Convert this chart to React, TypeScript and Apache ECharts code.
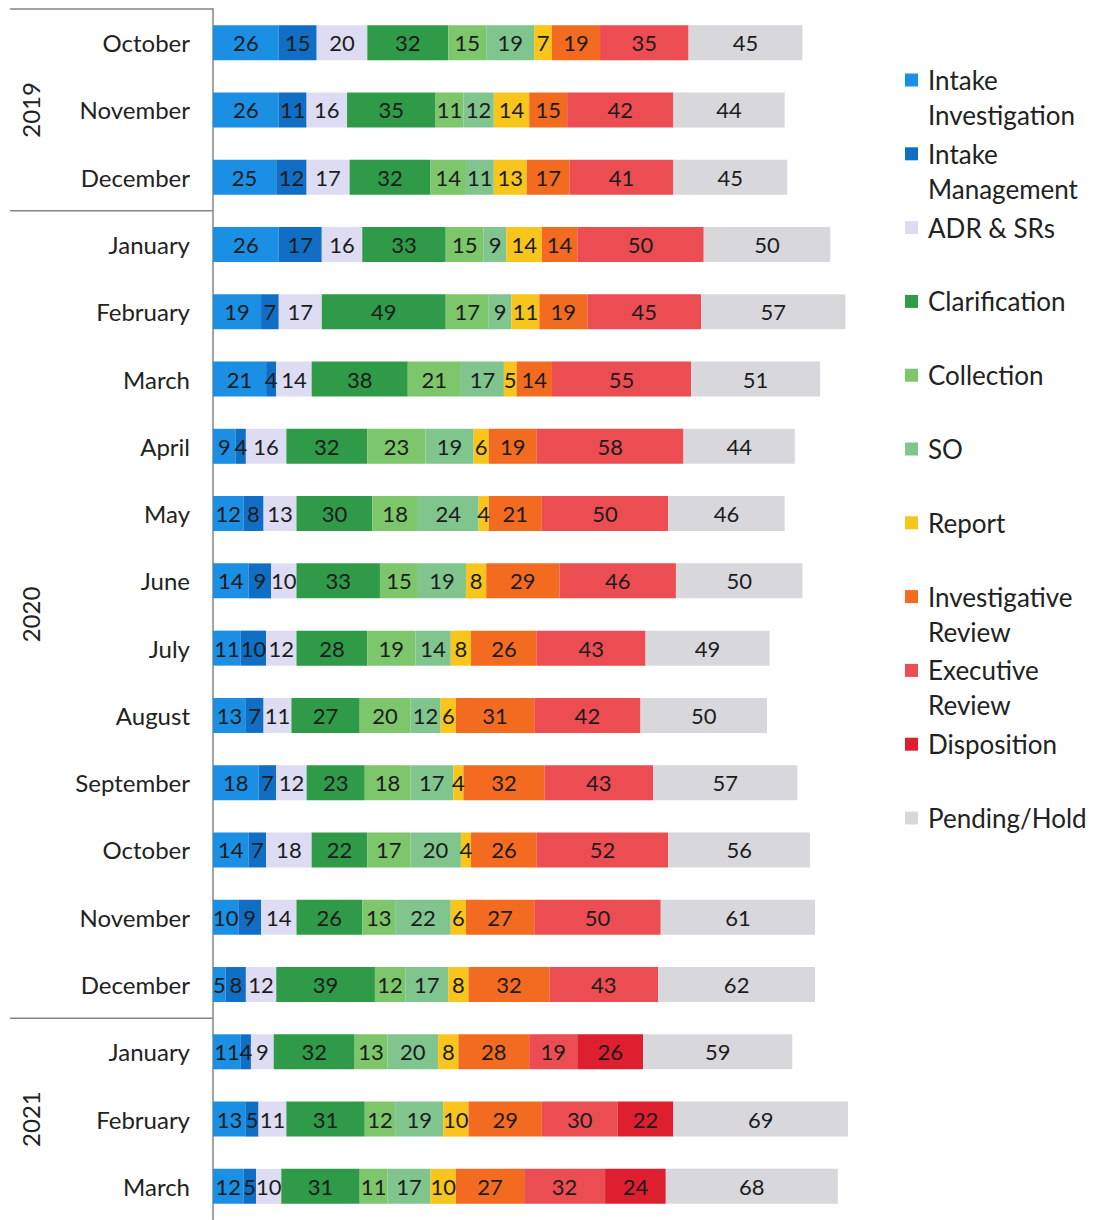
import React, { useEffect, useRef } from "react";
import * as echarts from "echarts";

const months = [
  "October", "November", "December",
  "January", "February", "March", "April", "May", "June", "July", "August", "September", "October", "November", "December",
  "January", "February", "March",
];
const years = [2019, 2019, 2019, 2020, 2020, 2020, 2020, 2020, 2020, 2020, 2020, 2020, 2020, 2020, 2020, 2021, 2021, 2021];
const categories = months.map((m, i) => `${m} ${years[i]}`);

const intakeInvestigation = [26, 26, 25, 26, 19, 21, 9, 12, 14, 11, 13, 18, 14, 10, 5, 11, 13, 12];
const intakeManagement = [15, 11, 12, 17, 7, 4, 4, 8, 9, 10, 7, 7, 7, 9, 8, 4, 5, 5];
const adrSrs = [20, 16, 17, 16, 17, 14, 16, 13, 10, 12, 11, 12, 18, 14, 12, 9, 11, 10];
const clarification = [32, 35, 32, 33, 49, 38, 32, 30, 33, 28, 27, 23, 22, 26, 39, 32, 31, 31];
const collection = [15, 11, 14, 15, 17, 21, 23, 18, 15, 19, 20, 18, 17, 13, 12, 13, 12, 11];
const so = [19, 12, 11, 9, 9, 17, 19, 24, 19, 14, 12, 17, 20, 22, 17, 20, 19, 17];
const report = [7, 14, 13, 14, 11, 5, 6, 4, 8, 8, 6, 4, 4, 6, 8, 8, 10, 10];
const investigativeReview = [19, 15, 17, 14, 19, 14, 19, 21, 29, 26, 31, 32, 26, 27, 32, 28, 29, 27];
const executiveReview = [35, 42, 41, 50, 45, 55, 58, 50, 46, 43, 42, 43, 52, 50, 43, 19, 30, 32];
const disposition = [0, 0, 0, 0, 0, 0, 0, 0, 0, 0, 0, 0, 0, 0, 0, 26, 22, 24];
const pendingHold = [45, 44, 45, 50, 57, 51, 44, 46, 50, 49, 50, 57, 56, 61, 62, 59, 69, 68];

const seriesDefs = [
  { name: "Intake Investigation", label: "Intake\nInvestigation", data: intakeInvestigation, color: "#1a8fe3" },
  { name: "Intake Management", label: "Intake\nManagement", data: intakeManagement, color: "#106fc4" },
  { name: "ADR & SRs", label: "ADR & SRs", data: adrSrs, color: "#dedcf3" },
  { name: "Clarification", label: "Clarification", data: clarification, color: "#2f9a47" },
  { name: "Collection", label: "Collection", data: collection, color: "#7dc66b" },
  { name: "SO", label: "SO", data: so, color: "#80c58e" },
  { name: "Report", label: "Report", data: report, color: "#f7c51c" },
  { name: "Investigative Review", label: "Investigative\nReview", data: investigativeReview, color: "#f36b21" },
  { name: "Executive Review", label: "Executive\nReview", data: executiveReview, color: "#ec4d52" },
  { name: "Disposition", label: "Disposition", data: disposition, color: "#de1f2f" },
  { name: "Pending/Hold", label: "Pending/Hold", data: pendingHold, color: "#d8d8dc" },
];

const FONT = "Lato";
const TEXT_COLOR = "#222222";
const LINE_H = 35;

export default function App() {
  const ref = useRef<HTMLDivElement>(null);

  useEffect(() => {
    if (!ref.current) return;
    const chart = echarts.init(ref.current, null, { renderer: "svg" });

    const legends = seriesDefs.map((s, i) => {
      const lines = s.label.split("\n").length;
      const iconY = 80 + i * 73.8;
      // two-line names get a blank leading line so the first line sits beside the icon
      const text = lines === 2 ? " \n" + s.label : s.label;
      const boxH = lines === 2 ? LINE_H * 3 : LINE_H;
      return {
        orient: "vertical",
        left: 905,
        top: iconY - boxH / 2,
        padding: 0,
        itemWidth: 13,
        itemHeight: 13,
        itemGap: 8,
        icon: "rect",
        data: [s.name],
        selectedMode: false,
        formatter: () => text,
        textStyle: {
          fontFamily: FONT,
          fontSize: 26,
          color: TEXT_COLOR,
          lineHeight: LINE_H,
          padding: [0, 0, 0, 5],
        },
      };
    });

    const option: any = {
      animation: false,
      grid: { left: 213, top: 9, width: 683, height: 1217, containLabel: false },
      xAxis: { type: "value", min: 0, max: 270, show: false },
      yAxis: {
        type: "category",
        data: categories,
        inverse: true,
        axisLine: { show: true, lineStyle: { color: "#858585", width: 1.5 } },
        axisTick: { show: false },
        axisLabel: {
          margin: 23,
          fontFamily: FONT,
          fontSize: 24,
          color: TEXT_COLOR,
          formatter: (v: string) => v.split(" ")[0],
        },
      },
      legend: legends,
      series: seriesDefs.map((s) => ({
        name: s.name,
        type: "bar",
        stack: "total",
        barWidth: 35,
        data: s.data,
        itemStyle: { color: s.color },
        label: {
          show: true,
          position: "inside",
          fontFamily: FONT,
          fontSize: 22,
          color: "#1c1c1c",
          formatter: (p: any) => (p.value ? String(p.value) : ""),
        },
      })),
    };
    chart.setOption(option);

    const yOf = (i: number) => chart.convertToPixel({ yAxisIndex: 0 }, categories[i]) as number;
    const band = yOf(1) - yOf(0);
    const axisX = 213;
    const groups: { year: number; start: number; end: number }[] = [];
    years.forEach((y, i) => {
      const g = groups[groups.length - 1];
      if (g && g.year === y) g.end = i;
      else groups.push({ year: y, start: i, end: i });
    });
    const graphic: any[] = [];
    groups.forEach((g) => {
      const topY = yOf(g.start) - band / 2;
      graphic.push({
        type: "line",
        shape: { x1: 10, y1: topY, x2: axisX, y2: topY },
        style: { stroke: "#858585", lineWidth: 1.5 },
      });
      graphic.push({
        type: "text",
        x: 30,
        y: (yOf(g.start) + yOf(g.end)) / 2,
        rotation: Math.PI / 2,
        style: {
          text: String(g.year),
          align: "center",
          verticalAlign: "middle",
          fontFamily: FONT,
          fontSize: 24,
          fill: TEXT_COLOR,
        },
      });
    });
    chart.setOption({ graphic });

    return () => chart.dispose();
  }, []);

  return (
    <div
      ref={ref}
      style={{ position: "absolute", left: 0, top: 0, width: 1099, height: 1220, background: "#fff" }}
    />
  );
}
